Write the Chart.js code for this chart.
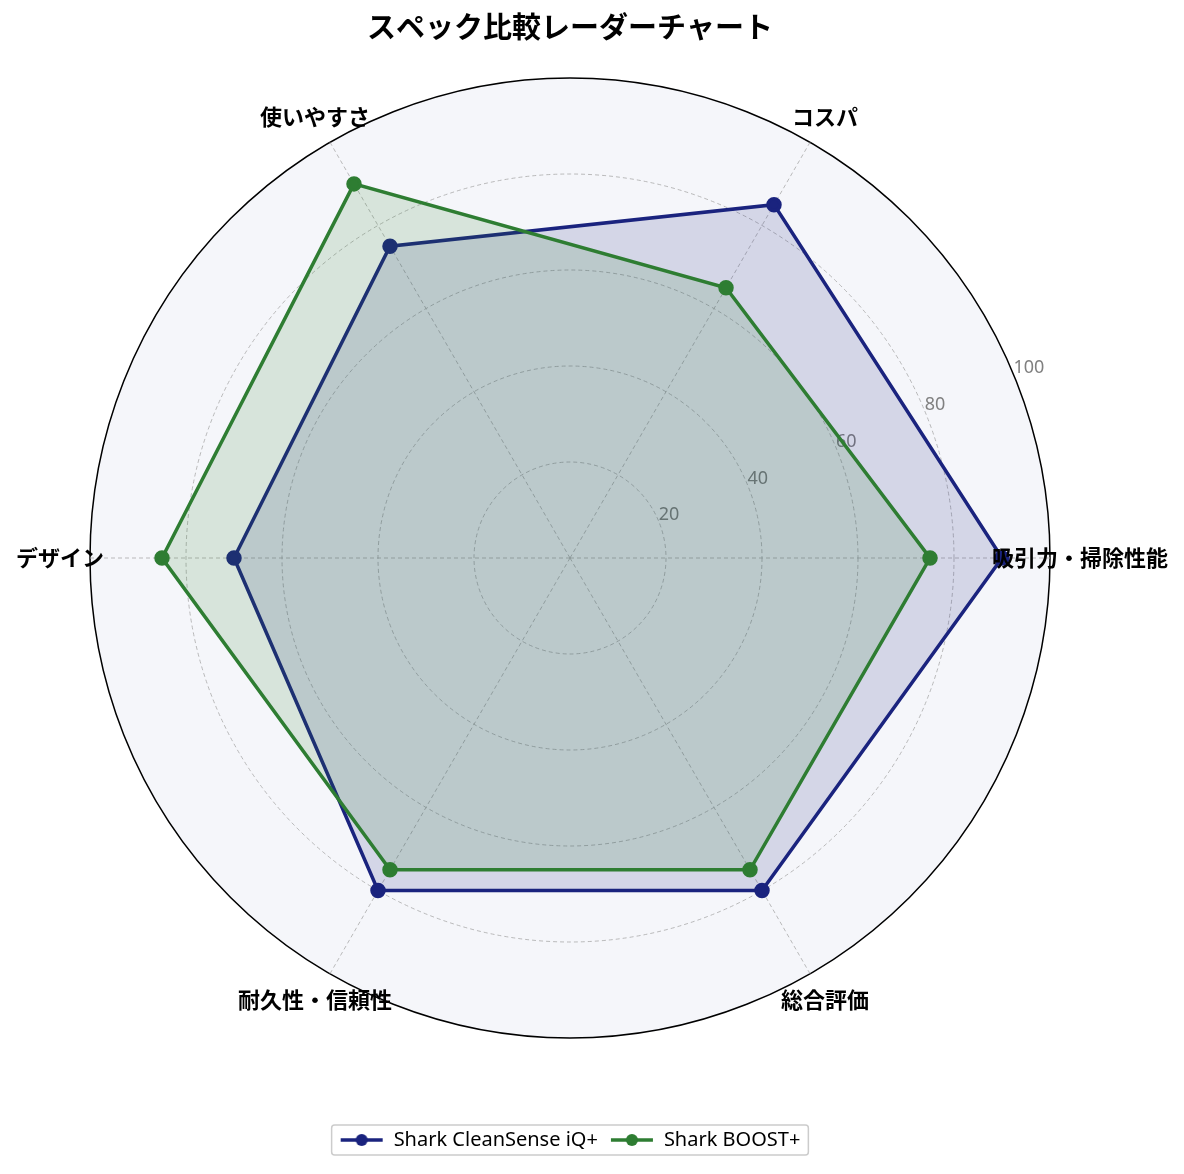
<!DOCTYPE html>
<html>
<head>
<meta charset="utf-8">
<script src="https://cdn.jsdelivr.net/npm/chart.js@4.4.1/dist/chart.umd.min.js"></script>
<style>
  html, body { margin: 0; padding: 0; background: #fff; }
  #wrap { width: 1184px; height: 1174px; }
</style>
</head>
<body>
<div id="wrap"><canvas id="radar"></canvas></div>
<script>
// categories, counter-clockwise from the right as in the picture
var categories = ["吸引力・掃除性能", "コスパ", "使いやすさ", "デザイン", "耐久性・信頼性", "総合評価"];
var cleanSense = [90, 85, 75, 70, 80, 80];
var boost = [75, 65, 90, 85, 75, 75];
var tickValues = [20, 40, 60, 80, 100];

var FONT = "'Noto Sans CJK JP', 'Noto Sans', sans-serif";
var LATIN = "'Noto Sans', 'Noto Sans CJK JP', sans-serif";
var BLUE = "#1a237e";
var GREEN = "#2e7d32";

// Chart.js goes clockwise, so keep the first one and flip the rest
var order = [0, 5, 4, 3, 2, 1];
function pick(arr) { return order.map(function (i) { return arr[i]; }); }

function legendMark(color) {
  var c = document.createElement("canvas");
  c.width = 44; c.height = 14;
  var g = c.getContext("2d");
  g.strokeStyle = color; g.lineWidth = 3.5;
  g.beginPath(); g.moveTo(1, 7); g.lineTo(43, 7); g.stroke();
  g.fillStyle = color;
  g.beginPath(); g.arc(22, 7, 6, 0, Math.PI * 2); g.fill();
  return c;
}

// tick labels at 22.5 deg, like matplotlib
var tickLabels = {
  id: "tickLabels",
  beforeDatasetsDraw: function (chart) {
    var s = chart.scales.r, ctx = chart.ctx;
    var a = 22.5 * Math.PI / 180;
    ctx.save();
    ctx.font = "18px " + LATIN;
    ctx.fillStyle = "#808080";
    ctx.textAlign = "left";
    ctx.textBaseline = "bottom";
    tickValues.forEach(function (v) {
      var d = s.getDistanceFromCenterForValue(v);
      ctx.fillText(String(v), s.xCenter + Math.cos(a) * d, s.yCenter - Math.sin(a) * d + 3);
    });
    ctx.restore();
  }
};

// category labels centred just outside the circle, drawn over the data
var catLabels = {
  id: "catLabels",
  afterDatasetsDraw: function (chart) {
    var s = chart.scales.r, ctx = chart.ctx;
    var d = s.getDistanceFromCenterForValue(100) + 30;
    ctx.save();
    ctx.font = "bold 22px " + FONT;
    ctx.fillStyle = "#000";
    ctx.textAlign = "center";
    ctx.textBaseline = "middle";
    chart.data.labels.forEach(function (lab, i) {
      var p = s.getPointPosition(i, d);
      ctx.fillText(lab, p.x, p.y);
    });
    ctx.restore();
  }
};

// frame round the legend
var legendFrame = {
  id: "legendFrame",
  afterDraw: function (chart) {
    var boxes = chart.legend.legendHitBoxes;
    if (!boxes || !boxes.length) return;
    var first = boxes[0], last = boxes[boxes.length - 1];
    var x0 = first.left - 8, x1 = last.left + last.width + 8;
    var y0 = first.top - 5, y1 = first.top + first.height + 5;
    var ctx = chart.ctx;
    ctx.save();
    ctx.strokeStyle = "#cccccc";
    ctx.lineWidth = 1.5;
    ctx.beginPath();
    ctx.roundRect(x0, y0, x1 - x0, y1 - y0, 3);
    ctx.stroke();
    ctx.restore();
  }
};

new Chart(document.getElementById("radar"), {
  type: "radar",
  data: {
    labels: pick(categories),
    datasets: [{
      label: "Shark CleanSense iQ+",
      data: pick(cleanSense),
      borderColor: BLUE,
      backgroundColor: "rgba(26, 35, 126, 0.15)",
      pointBackgroundColor: BLUE,
      pointBorderColor: BLUE,
      borderWidth: 3.5,
      pointRadius: 6,
      fill: true,
      order: 1
    }, {
      label: "Shark BOOST+",
      data: pick(boost),
      borderColor: GREEN,
      backgroundColor: "rgba(46, 125, 50, 0.15)",
      pointBackgroundColor: GREEN,
      pointBorderColor: GREEN,
      borderWidth: 3.5,
      pointRadius: 6,
      fill: true,
      order: 0
    }]
  },
  options: {
    responsive: true,
    maintainAspectRatio: false,
    animation: false,
    layout: { padding: { left: 0, right: 44, top: 0, bottom: 14 } },
    elements: { line: { tension: 0 } },
    scales: {
      r: {
        min: 0,
        max: 100,
        startAngle: 90,
        backgroundColor: "#f5f6fa",
        ticks: { stepSize: 20, display: false },
        pointLabels: { display: false },
        grid: {
          circular: true,
          color: function (c) { return c.tick && c.tick.value === 100 ? "#000" : "#aaaaaa"; },
          lineWidth: function (c) { return c.tick && c.tick.value === 100 ? 1.5 : 0.8; }
        },
        border: {
          dash: function (c) { return c.tick && c.tick.value === 100 ? [] : [4, 3]; }
        },
        angleLines: { color: "#aaaaaa", lineWidth: 0.8, borderDash: [4, 3] }
      }
    },
    plugins: {
      title: {
        display: true,
        text: "スペック比較レーダーチャート",
        color: "#000",
        font: { family: FONT, size: 29, weight: "bold", lineHeight: 1.2 },
        padding: { top: 10, bottom: 33.2 }
      },
      legend: {
        position: "bottom",
        title: { display: true, text: "", font: { size: 12, lineHeight: 1.2 }, padding: { top: 65, bottom: 0 } },
        labels: {
          color: "#000",
          font: { family: LATIN, size: 20 },
          usePointStyle: true,
          pointStyleWidth: 44,
          padding: 12,
          generateLabels: function (chart) {
            return chart.data.datasets.map(function (ds, i) {
              return { text: ds.label, pointStyle: legendMark(ds.borderColor), datasetIndex: i, fontColor: "#000", lineWidth: 0 };
            });
          }
        }
      },
      tooltip: { enabled: false }
    }
  },
  plugins: [tickLabels, catLabels, legendFrame]
});
</script>
</body>
</html>
